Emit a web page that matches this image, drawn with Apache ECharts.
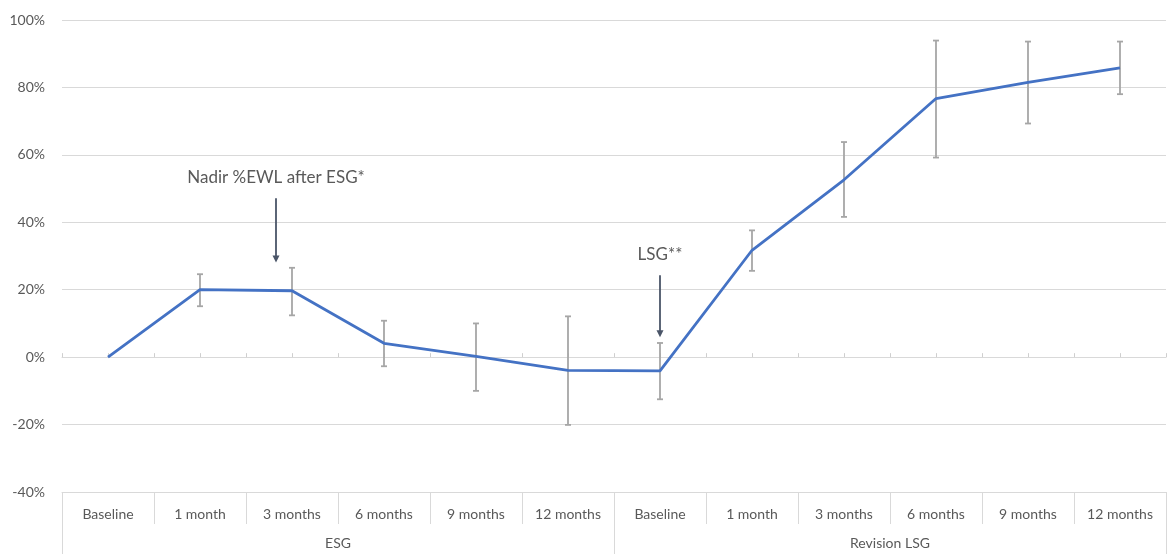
<!DOCTYPE html>
<html>
<head>
<meta charset="utf-8">
<script src="https://cdn.jsdelivr.net/npm/echarts@6/dist/echarts.min.js"></script>
<style>
  html, body { margin: 0; padding: 0; background: #ffffff; }
  #chart { width: 1167px; height: 554px; }
</style>
</head>
<body>
<div id="chart"></div>
<script>
// Follow-up time points, grouped by procedure
const categories = ['Baseline', '1 month', '3 months', '6 months', '9 months', '12 months',
                    'Baseline', '1 month', '3 months', '6 months', '9 months', '12 months'];
const groups = ['ESG', 'Revision LSG'];

// Mean %EWL with lower / upper error bar ends (percent)
const meanEWL = [0, 20.0, 19.7, 4.1, 0.2, -3.9, -4.1, 31.7, 52.6, 76.7, 81.5, 85.8];
const lowerEWL = [null, 15.1, 12.4, -2.7, -10.0, -20.1, -12.5, 25.6, 41.6, 59.2, 69.3, 78.0];
const upperEWL = [null, 24.6, 26.5, 10.8, 10.0, 12.1, 4.2, 37.6, 63.8, 93.9, 93.6, 93.6];

// Y axis range
const yMin = -40, yMax = 100, yStep = 20;

// Arrow annotations: category index, arrow start / tip values
const noteTexts = ['Nadir %EWL after ESG*', 'LSG**'];
const noteCats = [2, 6];
const noteFrom = [47.1, 24.3];
const noteTo = [28.1, 5.9];

const FONT = 'Lato, "Open Sans", sans-serif';
const GRID_COLOR = '#d9d9d9';
const TEXT_COLOR = '#595959';

const errorData = categories.map((c, i) => [i, lowerEWL[i], upperEWL[i]])
  .filter(d => d[1] != null && d[2] != null);

const chart = echarts.init(document.getElementById('chart'), null, { renderer: 'canvas' });

chart.setOption({
  animation: false,
  backgroundColor: '#ffffff',
  grid: { left: 62, right: 1, top: 20, bottom: 62, containLabel: false },
  xAxis: [
    {
      type: 'category',
      data: categories,
      position: 'bottom',
      axisLine: { onZero: false, lineStyle: { color: GRID_COLOR, width: 1 } },
      axisTick: { show: true, interval: 0, length: 32, lineStyle: { color: GRID_COLOR } },
      axisLabel: { interval: 0, margin: 15, color: TEXT_COLOR, fontFamily: FONT, fontSize: 14 },
      splitLine: { show: false }
    },
    {
      type: 'category',
      data: groups,
      position: 'bottom',
      axisLine: { show: false, onZero: false },
      axisTick: { show: true, interval: 0, length: 62, lineStyle: { color: GRID_COLOR } },
      axisLabel: { interval: 0, margin: 44, color: TEXT_COLOR, fontFamily: FONT, fontSize: 14 },
      splitLine: { show: false }
    },
    {
      // small half-category ticks along the zero line
      type: 'category',
      data: categories.flatMap(() => ['', '']),
      position: 'bottom',
      axisLine: { show: true, onZero: true, onZeroAxisIndex: 0, lineStyle: { color: GRID_COLOR } },
      axisTick: { show: true, inside: true, interval: 0, length: 4, lineStyle: { color: '#cfcfcf' } },
      axisLabel: { show: false },
      splitLine: { show: false }
    }
  ],
  yAxis: {
    type: 'value',
    min: yMin,
    max: yMax,
    interval: yStep,
    axisLine: { show: false },
    axisTick: { show: false },
    axisLabel: { formatter: '{value}%', margin: 17, color: TEXT_COLOR, fontFamily: FONT, fontSize: 14 },
    splitLine: { lineStyle: { color: GRID_COLOR, width: 1 } }
  },
  series: [
    {
      type: 'custom',
      name: 'error',
      xAxisIndex: 0,
      data: errorData,
      z: 2,
      renderItem: function (params, api) {
        const x = api.value(0);
        const lo = api.coord([x, api.value(1)]);
        const hi = api.coord([x, api.value(2)]);
        const cap = 3;
        const style = { stroke: '#a6a6a6', lineWidth: 1.8 };
        return {
          type: 'group',
          children: [
            { type: 'line', shape: { x1: hi[0], y1: hi[1], x2: lo[0], y2: lo[1] }, style: style },
            { type: 'line', shape: { x1: hi[0] - cap, y1: hi[1], x2: hi[0] + cap, y2: hi[1] }, style: style },
            { type: 'line', shape: { x1: lo[0] - cap, y1: lo[1], x2: lo[0] + cap, y2: lo[1] }, style: style }
          ]
        };
      }
    },
    {
      type: 'line',
      name: '%EWL',
      xAxisIndex: 0,
      data: meanEWL,
      symbol: 'none',
      z: 3,
      lineStyle: { color: '#4472c4', width: 2.8 },
      itemStyle: { color: '#4472c4' }
    }
  ]
});

// Arrow annotations placed from data values
const noteShift = [-16, 0];
const arrowColor = '#4a5568';
const graphics = [];
noteTexts.forEach((txt, i) => {
  const a = chart.convertToPixel({ xAxisIndex: 0, yAxisIndex: 0 }, [noteCats[i], noteFrom[i]]);
  const b = chart.convertToPixel({ xAxisIndex: 0, yAxisIndex: 0 }, [noteCats[i], noteTo[i]]);
  const x = a[0] + noteShift[i];
  graphics.push({
    type: 'line', z: 10,
    shape: { x1: x, y1: a[1], x2: x, y2: b[1] - 6 },
    style: { stroke: arrowColor, lineWidth: 1.8 }
  });
  graphics.push({
    type: 'polygon', z: 10,
    shape: { points: [[x - 3.5, b[1] - 7], [x + 3.5, b[1] - 7], [x, b[1]]] },
    style: { fill: arrowColor }
  });
  graphics.push({
    type: 'text', z: 10,
    x: x, y: a[1] - 21,
    style: {
      text: txt, fill: TEXT_COLOR, font: '17px ' + FONT,
      textAlign: 'center', textVerticalAlign: 'middle'
    }
  });
});
chart.setOption({ graphic: graphics });
</script>
</body>
</html>
